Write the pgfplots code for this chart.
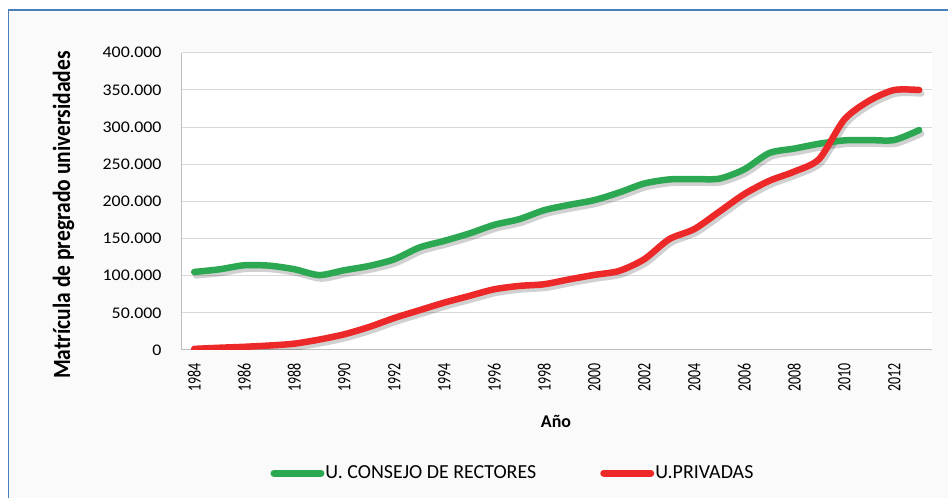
\documentclass[border=0pt]{standalone}
\usepackage{fontspec}
\setmainfont{Carlito}
\usepackage{graphicx}
\usepackage{pgfplots}
\pgfplotsset{compat=1.18}
\definecolor{cgreen}{RGB}{44,168,82}
\definecolor{cred}{RGB}{236,40,40}
\definecolor{frameblue}{RGB}{74,126,187}
\definecolor{gridgray}{RGB}{217,217,217}
\definecolor{axgray}{RGB}{191,191,191}
\begin{document}
\begin{tikzpicture}
\useasboundingbox (0,0) rectangle (948bp,498bp);
\clip (0,0) rectangle (948bp,498bp);
\draw[frameblue, line width=1.3bp, fill={rgb,255:red,250;green,250;blue,250}] (8.5bp,-10bp) rectangle (970bp,488bp);
\begin{axis}[
  at={(181.7bp,148bp)}, anchor=south west,
  scale only axis, width=750bp, height=297.3bp,
  xmin=1983.5, xmax=2013.5, ymin=0, ymax=400000,
  axis background/.style={fill=white},
  axis x line*=bottom, axis y line*=left,
  axis line style={axgray, line width=1bp},
  x axis line style={-}, y axis line style={-},
  ymajorgrids, grid style={gridgray, line width=1bp},
  ytick={0,50000,...,400000},
  xtick={1984,1986,...,2012},
  major tick length=0pt,
  scaled y ticks=false,
  /pgf/number format/assume math mode=true,
  yticklabel={\fontsize{16.3}{18}\selectfont\scalebox{1.1}[1]{\pgfmathprintnumber[fixed,precision=0,1000 sep={.}]{\tick}}},
  xticklabel={\fontsize{14}{16}\selectfont\scalebox{1}[1.35]{\pgfmathprintnumber[1000 sep={}]{\tick}}},
  y tick label style={inner sep=0pt, anchor=east, xshift=-20bp},
  x tick label style={rotate=90, anchor=east, inner sep=0pt},
  xticklabel shift={13bp},
  xlabel={\fontsize{18}{20}\selectfont\textbf{Año}},
  every axis x label/.style={at={(axis description cs:0.499,-0.239)}, anchor=center},
  ylabel={\fontsize{21.6}{24}\selectfont\scalebox{1}[1.15]{\textbf{Matrícula de pregrado universidades}}},
  every axis y label/.style={at={(axis description cs:-0.1576,0.454)}, anchor=center, rotate=90},
  legend columns=2,
  legend style={at={(axis description cs:0.441,-0.414)}, anchor=center, draw=none, fill=none,
    font=\fontsize{20}{22}\selectfont, nodes={inner sep=1bp},
    /tikz/every even column/.append style={column sep=63bp}},
  legend image code/.code={\draw[#1, line width=7bp, line cap=round] (3.5bp,0bp) -- (50.5bp,0bp);},
  every axis plot/.append style={line width=6.5bp, line cap=round, line join=round, smooth, tension=0.45},
]
% shadows
\addplot[black, opacity=0.18, xshift=2bp, yshift=-3.5bp, forget plot] coordinates {
(1984,105000)(1985,108500)(1986,114000)(1987,113500)(1988,108700)(1989,100800)
(1990,107300)(1991,113100)(1992,122000)(1993,137800)(1994,146800)(1995,156700)
(1996,168400)(1997,176000)(1998,188100)(1999,195300)(2000,201600)(2001,211900)
(2002,224000)(2003,229500)(2004,230000)(2005,230500)(2006,243000)(2007,265000)
(2008,271000)(2009,277500)(2010,282000)(2011,282500)(2012,282500)(2013,295900)};
\addplot[black, opacity=0.18, xshift=2bp, yshift=-3.5bp, forget plot] coordinates {
(1984,1500)(1985,3000)(1986,4300)(1987,6000)(1988,8500)(1989,14000)
(1990,21100)(1991,31000)(1992,43000)(1993,53400)(1994,63700)(1995,72700)
(1996,81700)(1997,86200)(1998,88500)(1999,95000)(2000,101000)(2001,106400)
(2002,122100)(2003,149100)(2004,162600)(2005,186000)(2006,209700)(2007,227600)
(2008,240000)(2009,257000)(2010,310000)(2011,335400)(2012,349800)(2013,349800)};
\addplot[cgreen] coordinates {
(1984,105000)(1985,108500)(1986,114000)(1987,113500)(1988,108700)(1989,100800)
(1990,107300)(1991,113100)(1992,122000)(1993,137800)(1994,146800)(1995,156700)
(1996,168400)(1997,176000)(1998,188100)(1999,195300)(2000,201600)(2001,211900)
(2002,224000)(2003,229500)(2004,230000)(2005,230500)(2006,243000)(2007,265000)
(2008,271000)(2009,277500)(2010,282000)(2011,282500)(2012,282500)(2013,295900)};
\addlegendentry{U. CONSEJO DE RECTORES}
\addplot[cred] coordinates {
(1984,1500)(1985,3000)(1986,4300)(1987,6000)(1988,8500)(1989,14000)
(1990,21100)(1991,31000)(1992,43000)(1993,53400)(1994,63700)(1995,72700)
(1996,81700)(1997,86200)(1998,88500)(1999,95000)(2000,101000)(2001,106400)
(2002,122100)(2003,149100)(2004,162600)(2005,186000)(2006,209700)(2007,227600)
(2008,240000)(2009,257000)(2010,310000)(2011,335400)(2012,349800)(2013,349800)};
\addlegendentry{U.PRIVADAS}
\end{axis}
\end{tikzpicture}
\end{document}
